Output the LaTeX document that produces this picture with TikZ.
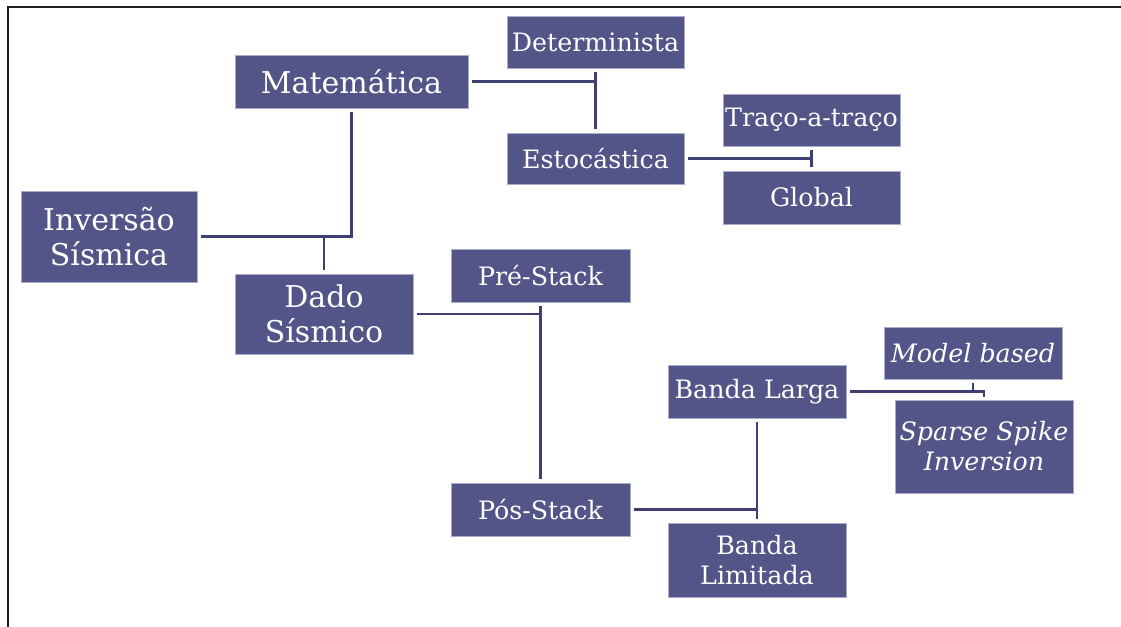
\documentclass[tikz,border=0pt]{standalone}
\usepackage{fontspec}
\setmainfont{DejaVu Serif}
\definecolor{boxfill}{RGB}{83,84,136}
\definecolor{boxedge}{RGB}{170,171,205}
\definecolor{conncol}{RGB}{62,62,112}
\definecolor{framecol}{RGB}{30,30,30}
\tikzset{
  box/.style={draw=boxedge, line width=0.5pt, fill=boxfill, text=white, align=center, inner sep=0pt},
  big/.style={font=\fontsize{22.5}{26}\selectfont},
  small/.style={font=\fontsize{19}{22.5}\selectfont},
  ital/.style={font=\fontsize{19}{22.5}\selectfont\itshape},
  conn/.style={draw=conncol, line width=2.2pt},
  frame/.style={draw=framecol, line width=1.4pt}
}
\begin{document}
\begin{tikzpicture}[x=0.75pt, y=-0.75pt]
\useasboundingbox (0,0) rectangle (1121,627);
\draw[frame] (8,627) -- (8,7) -- (1121,7);

\node[box, big, minimum width=174.75pt, minimum height=39.75pt] (mat) at (351.5,81.5) {Matemática};
\node[box, big, minimum width=132pt, minimum height=68.25pt] (inv) at (109,236.5) {Inversão\\Sísmica};
\node[box, big, minimum width=133.5pt, minimum height=60pt] (dado) at (324,314) {Dado\\Sísmico};
\node[box, small, minimum width=132.75pt, minimum height=39pt] (det) at (595.5,42) {Determinista};
\node[box, small, minimum width=132.75pt, minimum height=38.25pt] (est) at (595.5,158.5) {Estocástica};
\node[box, small, minimum width=132.75pt, minimum height=39pt] (traco) at (811.5,120) {Traço-a-traço};
\node[box, small, minimum width=132.75pt, minimum height=39.75pt] (glob) at (811.5,197.5) {Global};
\node[box, small, minimum width=134.25pt, minimum height=39.75pt] (pre) at (540.5,275.5) {Pré-Stack};
\node[box, small, minimum width=134.25pt, minimum height=39.75pt] (pos) at (540.5,509.5) {Pós-Stack};
\node[box, small, minimum width=133.5pt, minimum height=39.75pt] (bl) at (757,391.5) {Banda Larga};
\node[box, small, minimum width=133.5pt, minimum height=55.5pt] (blim) at (757,560) {Banda\\Limitada};
\node[box, ital, minimum width=133.5pt, minimum height=39pt] (model) at (973,353) {Model based};
\node[box, ital, minimum width=133.5pt, minimum height=69.75pt] (sparse) at (984,446.5) {Sparse Spike\\Inversion};

% connectors
\draw[conn] ([xshift=3pt]inv.east) -| ([yshift=-3pt]mat.south);
\draw[conn] ([yshift=2.5pt]dado.north) -- (dado.north |- inv.east);

\draw[conn] ([xshift=3pt]mat.east) -- (det.south |- mat.east);
\draw[conn] ([yshift=-2.5pt]det.south) -- ([yshift=2.5pt]est.north);

\draw[conn] ([xshift=3pt]est.east) -- (traco.south |- est.east);
\draw[conn] ([yshift=-3pt]traco.south) -- ([yshift=2.5pt]glob.north);

\draw[conn] ([xshift=3pt]dado.east) -- (pre.south |- dado.east);
\draw[conn] ([yshift=-2.5pt]pre.south) -- ([yshift=2.5pt]pos.north);

\draw[conn] ([xshift=3pt]pos.east) -- (bl.south |- pos.east);
\draw[conn] ([yshift=-3pt]bl.south) -- ([yshift=2.5pt]blim.north);

\draw[conn] ([xshift=3pt]bl.east) -| ([yshift=2pt]sparse.north);
\draw[conn] ([yshift=-2.5pt]model.south) -- (model.south |- bl.east);
\end{tikzpicture}
\end{document}
